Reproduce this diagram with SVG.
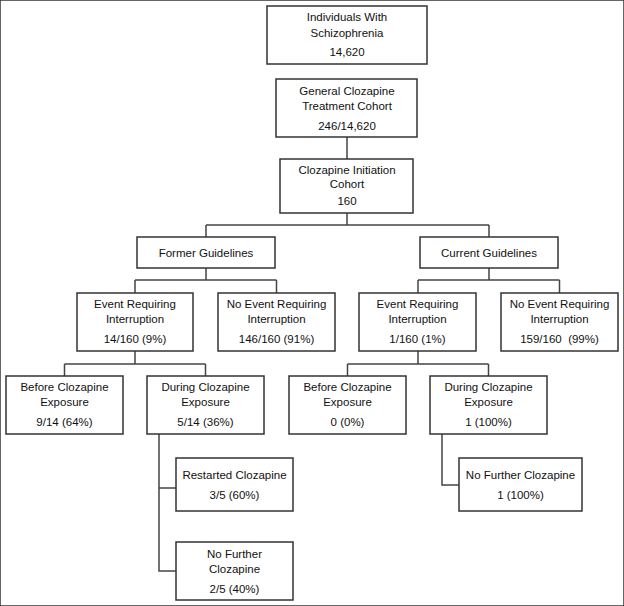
<svg xmlns="http://www.w3.org/2000/svg" width="624" height="606" viewBox="0 0 624 606">
<style>
rect{fill:#fff;stroke:#333;stroke-width:1.5}
text{font-family:"Liberation Sans",Arial,sans-serif;font-size:11.5px;fill:#111;text-anchor:middle}
.c{fill:none;stroke:#444;stroke-width:1.5}
</style>
<rect width="624" height="606" fill="#fff" stroke="none"/>
<g id="connectors">
<path class="c" d="M347 137V159"/>
<path class="c" d="M347 213V225M206 225H489M206 225V237M489 225V237"/>
<path class="c" d="M206 268V280M135 280H276.5M135 280V293M276.5 280V293"/>
<path class="c" d="M489 268V280M418 280H559.5M418 280V293M559.5 280V293"/>
<path class="c" d="M135 351V364M64.5 364H205.5M64.5 364V376M205.5 364V376"/>
<path class="c" d="M418 351V364M347.5 364H488.5M347.5 364V376M488.5 364V376"/>
<path class="c" d="M159 434V571H176M159 488H176"/>
<path class="c" d="M442 434V485H459"/>
</g>
<g id="n1"><rect x="267" y="6" width="160" height="58"/><text x="347" y="21">Individuals With</text><text x="347" y="37">Schizophrenia</text><text x="347" y="56">14,620</text></g>
<g id="n2"><rect x="276" y="79" width="141" height="58"/><text x="347" y="95">General Clozapine</text><text x="347" y="110">Treatment Cohort</text><text x="347" y="130">246/14,620</text></g>
<g id="n3"><rect x="280" y="159" width="133" height="54"/><text x="347" y="174">Clozapine Initiation</text><text x="347" y="188">Cohort</text><text x="347" y="205">160</text></g>
<g id="n4"><rect x="137" y="237" width="138" height="31"/><text x="206" y="257">Former Guidelines</text></g>
<g id="n5"><rect x="420" y="237" width="138" height="31"/><text x="489" y="257">Current Guidelines</text></g>
<g id="n6"><rect x="77" y="293" width="116" height="58"/><text x="135" y="308">Event Requiring</text><text x="135" y="323">Interruption</text><text x="135" y="343">14/160 (9%)</text></g>
<g id="n7"><rect x="218" y="293" width="117" height="58"/><text x="276.5" y="308">No Event Requiring</text><text x="276.5" y="323">Interruption</text><text x="276.5" y="343">146/160 (91%)</text></g>
<g id="n8"><rect x="359" y="293" width="117" height="58"/><text x="417.5" y="308">Event Requiring</text><text x="417.5" y="323">Interruption</text><text x="417.5" y="343">1/160 (1%)</text></g>
<g id="n9"><rect x="501" y="293" width="117" height="58"/><text x="559.5" y="308">No Event Requiring</text><text x="559.5" y="323">Interruption</text><text x="559.5" y="343" xml:space="preserve">159/160  (99%)</text></g>
<g id="n10"><rect x="6" y="376" width="117" height="58"/><text x="64.5" y="391">Before Clozapine</text><text x="64.5" y="406">Exposure</text><text x="64.5" y="426">9/14 (64%)</text></g>
<g id="n11"><rect x="147" y="376" width="117" height="58"/><text x="205.5" y="391">During Clozapine</text><text x="205.5" y="406">Exposure</text><text x="205.5" y="426">5/14 (36%)</text></g>
<g id="n12"><rect x="289" y="376" width="117" height="58"/><text x="347.5" y="391">Before Clozapine</text><text x="347.5" y="406">Exposure</text><text x="347.5" y="426">0 (0%)</text></g>
<g id="n13"><rect x="430" y="376" width="117" height="58"/><text x="488.5" y="391">During Clozapine</text><text x="488.5" y="406">Exposure</text><text x="488.5" y="426">1 (100%)</text></g>
<g id="n14"><rect x="176" y="458" width="117" height="53"/><text x="234.5" y="479">Restarted Clozapine</text><text x="234.5" y="499">3/5 (60%)</text></g>
<g id="n15"><rect x="176" y="542" width="117" height="58"/><text x="234.5" y="558">No Further</text><text x="234.5" y="573">Clozapine</text><text x="234.5" y="593">2/5 (40%)</text></g>
<g id="n16"><rect x="459" y="458" width="123" height="53"/><text x="520.5" y="479">No Further Clozapine</text><text x="520.5" y="499">1 (100%)</text></g>
</svg>
